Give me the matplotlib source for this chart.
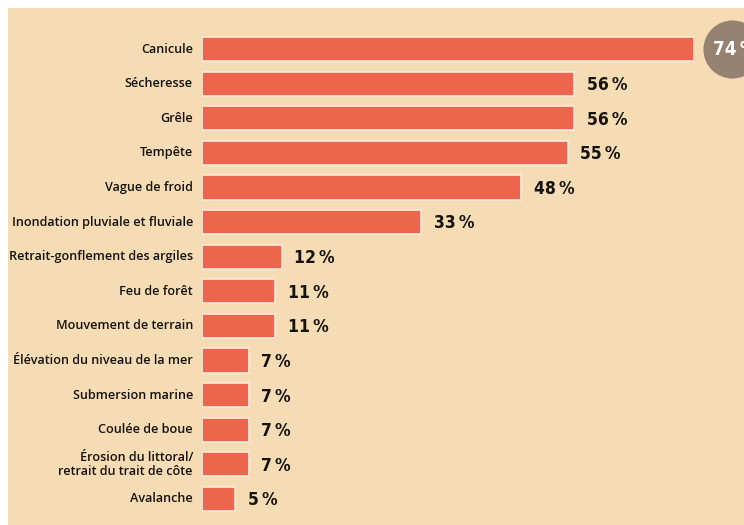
import matplotlib.pyplot as plt
from matplotlib.patches import Rectangle

# ──────────────────────────────────────────────
# DATA
# ──────────────────────────────────────────────
categories = [
    "Canicule",
    "Sécheresse",
    "Grêle",
    "Tempête",
    "Vague de froid",
    "Inondation pluviale et fluviale",
    "Retrait-gonflement des argiles",
    "Feu de forêt",
    "Mouvement de terrain",
    "Élévation du niveau de la mer",
    "Submersion marine",
    "Coulée de boue",
    "Érosion du littoral/\nretrait du trait de côte",
    "Avalanche",
]
values = [74, 56, 56, 55, 48, 33, 12, 11, 11, 7, 7, 7, 7, 5]

# colours
C_BG     = "#F5DCB4"
C_BAR    = "#EE654D"
C_EDGE   = "#FBEBDD"
C_CIRCLE = "#958270"
C_TEXT   = "#15120F"

W, H = 744, 525
fig = plt.figure(figsize=(W / 100, H / 100), dpi=100, facecolor="white")

# beige panel (white strip on top and left)
fig.patches.append(Rectangle((8 / W, 0), 1 - 8 / W, 1 - 8 / H,
                             transform=fig.transFigure, facecolor=C_BG,
                             edgecolor="none", zorder=-10))

# axes placed in pixels: x 202 -> 694 for 0 -> 74 %
x0, x1 = 202, 694
y_top, y_bot = 31.7, 516.3
ax = fig.add_axes([x0 / W, 1 - y_bot / H, (x1 - x0) / W, (y_bot - y_top) / H])
ax.set_xlim(0, max(values))
ax.set_ylim(len(values) - 0.5, -0.5)
ax.axis("off")

pos = list(range(len(values)))
ax.barh(pos, values, height=0.7, color=C_BAR, edgecolor=C_EDGE, linewidth=1.2)

label_font = ["Open Sans", "DejaVu Sans"]
value_font = ["DejaVu Sans"]

for y, cat in zip(pos, categories):
    ax.annotate(cat, (0, y), xytext=(-6.5, 0), textcoords="offset points",
                ha="right", va="center", fontsize=9.05, color=C_TEXT,
                family=label_font, fontweight="semibold", linespacing=1.12)

vmax = max(values)
px_per_unit = (x1 - x0) / vmax
for y, v in zip(pos, values):
    if v == vmax:
        # highlight circle for the maximum
        circ_x = v + 38 / px_per_unit
        ax.scatter([circ_x], [y], s=1750, color=C_CIRCLE, clip_on=False,
                   zorder=3, linewidths=0)
        ax.annotate(f"{v}\u2009%", (v, y), xytext=(14, 0), textcoords="offset points",
                    ha="left", va="center", fontsize=13.5, fontweight="bold",
                    fontstretch="condensed", color="white", family=value_font,
                    zorder=4, annotation_clip=False)
    else:
        ax.annotate(f"{v}\u2009%", (v, y), xytext=(9, -1), textcoords="offset points",
                    ha="left", va="center", fontsize=12.5, fontweight="bold",
                    fontstretch="condensed", color=C_TEXT, family=value_font)

fig.savefig("out.png", dpi=100, facecolor="white")
